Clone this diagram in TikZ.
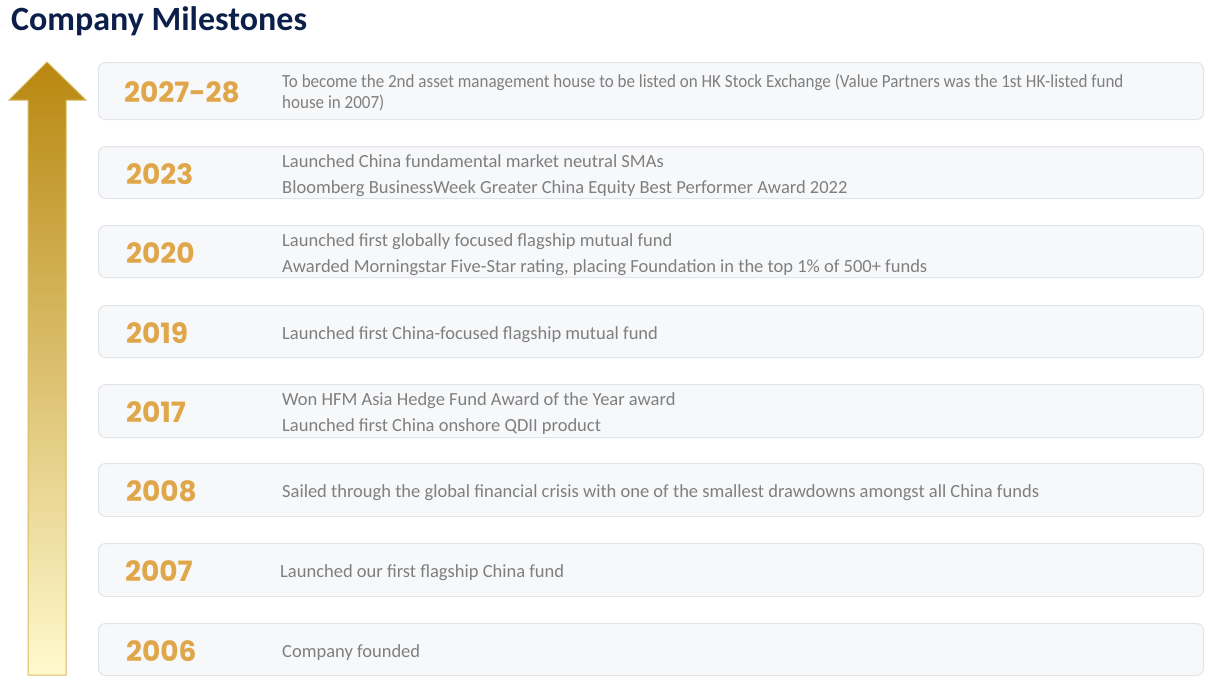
\documentclass[tikz,border=0pt]{standalone}
\usepackage{fontspec}
\setmainfont{Carlito}
\newfontfamily\yearfont{Poppins}
\usetikzlibrary{positioning}
\definecolor{navy}{HTML}{0C1F4A}
\definecolor{gold}{HTML}{E0A64A}
\definecolor{txtgray}{HTML}{7F7F7F}
\definecolor{boxfill}{HTML}{F7F8FA}
\definecolor{boxline}{HTML}{E2E4E8}
\definecolor{arrtop}{HTML}{B8870F}
\definecolor{arrbot}{HTML}{FFF9CE}
\definecolor{arrline}{HTML}{D6BC62}

\begin{document}
\begin{tikzpicture}[x=1pt, y=-1pt,
  box/.style={draw=boxline, fill=boxfill, rounded corners=7pt, line width=1pt, anchor=north west, minimum width=1105pt, inner sep=0pt},
  yr/.style={anchor=west, text=gold, font=\yearfont\bfseries\fontsize{28}{28}\selectfont, inner sep=0pt},
  desc/.style={anchor=west, text=txtgray, font=\fontsize{18.5}{26}\selectfont, align=left, inner sep=0pt}]
\useasboundingbox (0,0) rectangle (1219,694);

\node[anchor=west, text=navy, font=\bfseries\fontsize{34}{34}\selectfont, inner sep=0pt] (title) at (11,21) {Company Milestones};

% time arrow
\shadedraw[top color=arrtop, bottom color=arrbot, draw=arrline, line width=1pt]
  (47,62) -- (86,100) -- (66,100) -- (66,675) -- (28,675) -- (28,100) -- (9,100) -- cycle;

% milestone boxes
\node[box, minimum height=57pt] (b1) at (98,62) {};
\node[box, minimum height=52pt] (b2) at (98,146) {};
\node[box, minimum height=52pt] (b3) at (98,225) {};
\node[box, minimum height=52pt] (b4) at (98,305) {};
\node[box, minimum height=53pt] (b5) at (98,384) {};
\node[box, minimum height=53pt] (b6) at (98,463) {};
\node[box, minimum height=53pt] (b7) at (98,543) {};
\node[box, minimum height=52pt] (b8) at (98,623) {};

% years
\node[yr] (y1) at ([xshift=26pt, yshift=-1.5pt]b1.west) {2027-28};
\node[yr] (y2) at ([xshift=28pt, yshift=-1.5pt]b2.west) {2023};
\node[yr] (y3) at ([xshift=28pt, yshift=-1.5pt]b3.west) {2020};
\node[yr] (y4) at ([xshift=28pt, yshift=-1.5pt]b4.west) {2019};
\node[yr] (y5) at ([xshift=28pt, yshift=-1.5pt]b5.west) {2017};
\node[yr] (y6) at ([xshift=28pt, yshift=-1.5pt]b6.west) {2008};
\node[yr] (y7) at ([xshift=27pt, yshift=-1.5pt]b7.west) {2007};
\node[yr] (y8) at ([xshift=28pt, yshift=-1.5pt]b8.west) {2006};

% descriptions
\node[desc, font=\fontsize{18.5}{21}\selectfont, xscale=0.92, transform shape] (d1) at ([xshift=184pt, yshift=-2pt]b1.west) {To become the 2nd asset management house to be listed on HK Stock Exchange (Value Partners was the 1st HK-listed fund\\house in 2007)};
\node[desc] (d2) at ([xshift=184pt, yshift=-3pt]b2.west) {Launched China fundamental market neutral SMAs\\Bloomberg BusinessWeek Greater China Equity Best Performer Award 2022};
\node[desc] (d3) at ([xshift=184pt, yshift=-3pt]b3.west) {Launched first globally focused flagship mutual fund\\Awarded Morningstar Five-Star rating, placing Foundation in the top 1\% of 500+ funds};
\node[desc] (d4) at ([xshift=184pt, yshift=-3pt]b4.west) {Launched first China-focused flagship mutual fund};
\node[desc] (d5) at ([xshift=184pt, yshift=-3pt]b5.west) {Won HFM Asia Hedge Fund Award of the Year award\\Launched first China onshore QDII product};
\node[desc] (d6) at ([xshift=184pt, yshift=-3pt]b6.west) {Sailed through the global financial crisis with one of the smallest drawdowns amongst all China funds};
\node[desc] (d7) at ([xshift=182pt, yshift=-3pt]b7.west) {Launched our first flagship China fund};
\node[desc] (d8) at ([xshift=184pt, yshift=-3pt]b8.west) {Company founded};
\end{tikzpicture}
\end{document}
